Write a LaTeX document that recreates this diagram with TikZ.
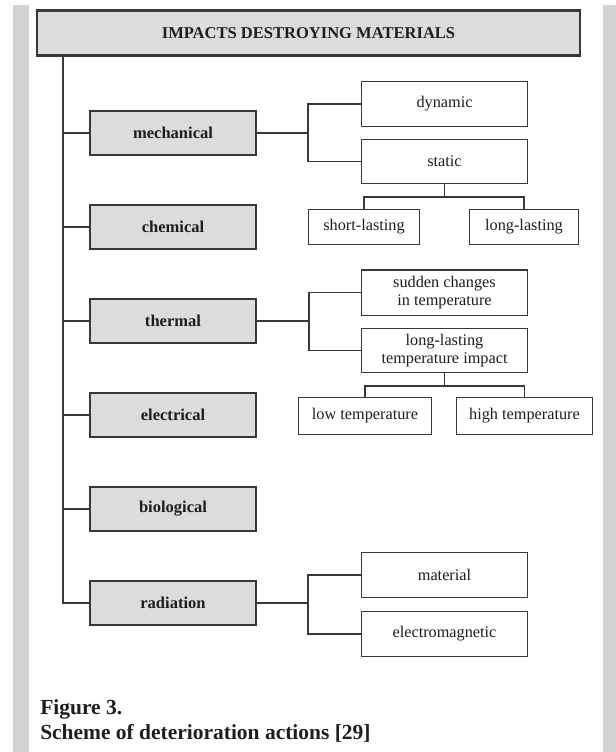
\documentclass[tikz,border=0pt]{standalone}
\usepackage{fontspec}
\setmainfont{Liberation Serif}
\definecolor{bandgray}{HTML}{D1D2D4}
\definecolor{boxgray}{HTML}{DCDCDC}
\definecolor{linegray}{HTML}{383838}
\definecolor{textgray}{HTML}{1E1E1E}

\begin{document}
\begin{tikzpicture}[x=0.75pt,y=-0.75pt]
	\tikzset{
		topbox/.style={draw=linegray, line width=1.9pt, fill=boxgray, minimum width=407pt, minimum height=34pt, inner sep=0pt, text=textgray, font=\bfseries\fontsize{12.4}{14}\selectfont},
		mainbox/.style={draw=linegray, line width=1.5pt, fill=boxgray, minimum width=124.5pt, minimum height=33pt, inner sep=0pt, text=textgray, font=\bfseries\fontsize{12.4}{14}\selectfont},
		subbox/.style 2 args={draw=linegray, line width=1pt, fill=white, minimum width=#1, minimum height=#2, inner sep=0pt, align=center, text=textgray, font=\fontsize{12.2}{13.5}\selectfont},
		wire/.style={draw=linegray, line width=1pt},
		caption/.style={inner sep=0pt, anchor=base west, text=textgray, font=\bfseries\fontsize{16.1}{19}\selectfont}
	}
	\useasboundingbox (0,0) rectangle (616,752);
	
	% side bands of the page
	\fill[bandgray] (13,5) rectangle (29,752);
	\fill[bandgray] (603,5) rectangle (616,752);
	
	\node[topbox] (top) at (308.5,33) {IMPACTS DESTROYING MATERIALS};
	
	\node[mainbox] (mech) at (173,133) {mechanical};
	\node[mainbox] (chem) at (173,227) {chemical};
	\node[mainbox] (therm) at (173,321) {thermal};
	\node[mainbox] (elec) at (173,415) {electrical};
	\node[mainbox] (bio) at (173,509) {biological};
	\node[mainbox] (rad) at (173,603) {radiation};
	
	\node[subbox={124.3pt}{33.5pt}] (dyn) at (444.5,104) {dynamic};
	\node[subbox={124.3pt}{33pt}] (stat) at (444.5,161.5) {static};
	\node[subbox={83pt}{26pt}] (short) at (364,227) {short-lasting};
	\node[subbox={81.5pt}{26pt}] (long) at (524,227) {long-lasting};
	\node[subbox={124.3pt}{34pt}] (sudden) at (444.5,292.5) {sudden changes\\in temperature};
	\node[subbox={124.3pt}{33pt}] (lasting) at (444.5,350.5) {long-lasting\\temperature impact};
	\node[subbox={99.5pt}{27.5pt}] (low) at (365,416) {low temperature};
	\node[subbox={101.8pt}{27.5pt}] (high) at (524.5,416) {high temperature};
	\node[subbox={124.3pt}{33.5pt}] (mat) at (444.5,575) {material};
	\node[subbox={124.3pt}{33.5pt}] (emag) at (444.5,634) {electromagnetic};
	
	\coordinate (trunkend) at (63,603);
	\coordinate (mechfork) at (308,133);
	\coordinate (statfork) at (444.5,197);
	\coordinate (thermfork) at (309,321);
	\coordinate (lastfork) at (444.5,386);
	\coordinate (radfork) at (308,603);
	
	% trunk
	\draw[wire] (top.south -| trunkend) -- (trunkend) -- (rad.west);
	\draw[wire] (mech.west) -- (mech.west -| trunkend);
	\draw[wire] (chem.west) -- (chem.west -| trunkend);
	\draw[wire] (therm.west) -- (therm.west -| trunkend);
	\draw[wire] (elec.west) -- (elec.west -| trunkend);
	\draw[wire] (bio.west) -- (bio.west -| trunkend);
	
	% mechanical
	\draw[wire] (mech) -- (mechfork);
	\draw[wire] (dyn.west) -| (mechfork) |- (stat.west);
	\draw[wire] (stat) -- (statfork);
	\draw[wire] (short.north) |- (statfork) -| (long.north);
	
	% thermal
	\draw[wire] (therm) -- (thermfork);
	\draw[wire] (sudden.west) -| (thermfork) |- (lasting.west);
	\draw[wire] (lasting) -- (lastfork);
	\draw[wire] (low.north) |- (lastfork) -| (high.north);
	
	% radiation
	\draw[wire] (rad) -- (radfork);
	\draw[wire] (mat.west) -| (radfork) |- (emag.west);
	
	\node[caption] (fig) at (40,714) {Figure 3.};
	\node[caption] (cap) at (40,739) {Scheme of deterioration actions [29]};
\end{tikzpicture}
\end{document}
